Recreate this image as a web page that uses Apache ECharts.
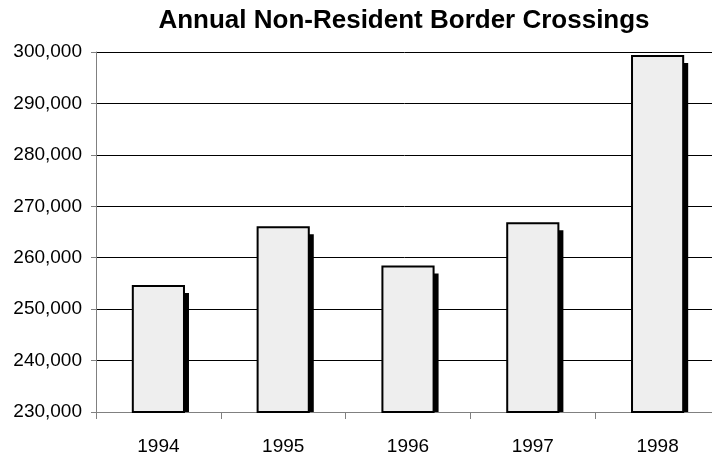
<!DOCTYPE html>
<html>
<head>
<meta charset="utf-8">
<script src="https://cdn.jsdelivr.net/npm/echarts@6/dist/echarts.min.js"></script>
<style>
  html, body { margin: 0; padding: 0; background: #fff; }
  #chart { width: 712px; height: 460px; }
</style>
</head>
<body>
<div id="chart"></div>
<script>
// data
const years = ['1994', '1995', '1996', '1997', '1998'];
const crossings = [254500, 265900, 258300, 266700, 299200];
const yMin = 230000;
const yMax = 300000;
const yStep = 10000;

const chart = echarts.init(document.getElementById('chart'));

const option = {
    animation: false,
    title: {
        text: 'Annual Non-Resident Border Crossings',
        left: 399,
        textAlign: 'center',
        top: 3,
        textStyle: {
            fontFamily: 'Liberation Sans, Arial, sans-serif',
            fontSize: 26,
            fontWeight: 'bold',
            color: '#000'
        }
    },
    grid: {
        left: 96,
        width: 624,
        top: 52,
        bottom: 48,
        containLabel: false,
        outerBoundsMode: 'none'
    },
    xAxis: {
        type: 'category',
        data: years,
        boundaryGap: true,
        axisLine: { lineStyle: { color: '#808080', width: 1 } },
        axisTick: { show: true, length: 7, lineStyle: { color: '#808080' } },
        axisLabel: {
            margin: 25,
            fontFamily: 'Liberation Sans, Arial, sans-serif',
            fontSize: 19,
            color: '#000'
        }
    },
    yAxis: {
        type: 'value',
        min: yMin,
        max: yMax,
        interval: yStep,
        axisLine: { show: true, lineStyle: { color: '#808080', width: 1 } },
        axisTick: { show: true, length: 5, lineStyle: { color: '#808080' } },
        splitLine: { lineStyle: { color: '#000', width: 1 } },
        axisLabel: {
            margin: 14,
            fontFamily: 'Liberation Sans, Arial, sans-serif',
            fontSize: 19,
            color: '#000',
            formatter: v => v.toLocaleString('en-US')
        }
    },
    series: [{
        type: 'custom',
        data: crossings.map((v, i) => [i, v]),
        encode: { x: 0, y: 1 },
        renderItem: function (params, api) {
            const top = api.coord([api.value(0), api.value(1)]);
            const base = api.coord([api.value(0), yMin]);
            const bw = api.size([1, 0])[0] * 0.41;
            const x0 = top[0] - bw / 2;
            return {
                type: 'group',
                children: [{
                    // drop shadow, clipped at the axis
                    type: 'rect',
                    shape: { x: x0 + 5, y: top[1] + 7, width: bw, height: base[1] - top[1] - 7 },
                    style: { fill: '#000' }
                }, {
                    type: 'rect',
                    shape: { x: x0, y: top[1], width: bw, height: base[1] - top[1] },
                    style: { fill: '#eeeeee', stroke: '#000', lineWidth: 2 }
                }]
            };
        }
    }]
};

chart.setOption(option);
</script>
</body>
</html>
